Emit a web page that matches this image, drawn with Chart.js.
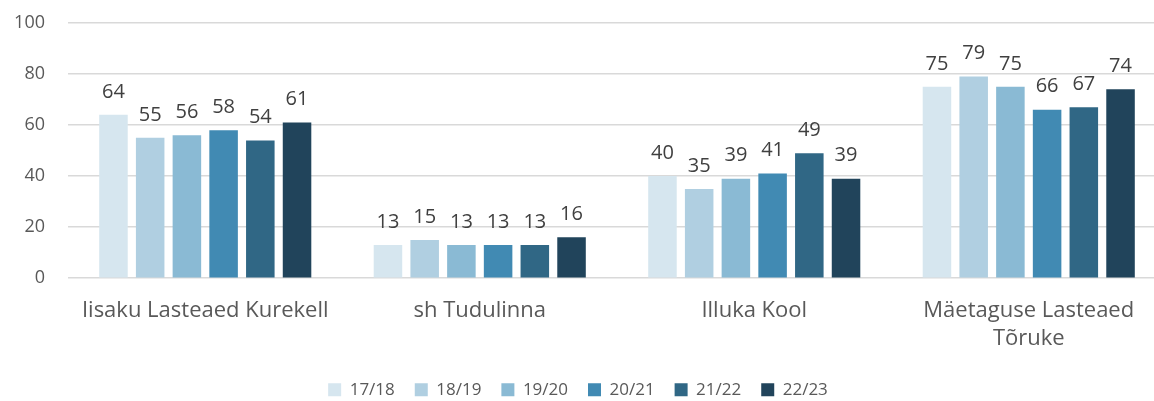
<!DOCTYPE html>
<html><head><meta charset="utf-8">
<script src="https://cdn.jsdelivr.net/npm/chart.js@4"></script>
<style>html,body{margin:0;padding:0;background:#fff;overflow:hidden}#wrap{width:1166px;height:401px}</style>
</head><body><div id="wrap"><canvas id="c"></canvas></div>
<script>
const categories = [["Iisaku Lasteaed Kurekell"], ["sh Tudulinna"], ["Illuka Kool"], ["Mäetaguse Lasteaed", "Tõruke"]];
const seriesNames = ["17/18", "18/19", "19/20", "20/21", "21/22", "22/23"];
const s1718 = [64, 13, 40, 75];
const s1819 = [55, 15, 35, 79];
const s1920 = [56, 13, 39, 75];
const s2021 = [58, 13, 41, 66];
const s2122 = [54, 13, 49, 67];
const s2223 = [61, 16, 39, 74];
const colors = ["#D6E6EF", "#B0CFE1", "#8ABAD4", "#418AB3", "#306785", "#21445B"];
const yTicks = [0, 20, 40, 60, 80, 100];

const allSeries = [s1718, s1819, s1920, s2021, s2122, s2223];
const FONT = "'Open Sans', 'DejaVu Sans', sans-serif";

const labelPlugin = {
  id: 'barLabels',
  afterLayout(chart) {
    if (chart.legend) { chart.legend.left -= 5; chart.legend.right -= 5; }
  },
  afterDatasetsDraw(chart) {
    const ctx = chart.ctx;
    ctx.save();
    ctx.font = "20px " + FONT;
    ctx.fillStyle = "#404040";
    ctx.textAlign = "center";
    ctx.textBaseline = "middle";
    chart.data.datasets.forEach((ds, i) => {
      const meta = chart.getDatasetMeta(i);
      meta.data.forEach((bar, j) => {
        ctx.fillText(String(ds.data[j]), bar.x, bar.y - 23);
      });
    });
    ctx.restore();
  }
};

new Chart(document.getElementById('c'), {
  type: 'bar',
  data: {
    labels: categories,
    datasets: allSeries.map((d, i) => ({
      label: seriesNames[i],
      data: d,
      backgroundColor: colors[i],
      borderWidth: 0,
      categoryPercentage: 0.8025,
      barPercentage: 0.777
    }))
  },
  options: {
    responsive: true,
    maintainAspectRatio: false,
    animation: false,
    layout: { padding: { left: 0, right: 0, top: 23, bottom: -7.2 } },
    scales: {
      y: {
        min: 0, max: 100,
        afterBuildTicks: (ax) => { ax.ticks = yTicks.map(v => ({ value: v })); },
        afterFit: (s) => { s.width = 68; },
        grid: { color: '#D9D9D9', lineWidth: 1.5, drawTicks: true, tickLength: 23, tickColor: 'rgba(0,0,0,0)' },
        border: { display: false },
        ticks: { color: '#595959', font: { size: 18, family: FONT }, padding: 0 }
      },
      x: {
        afterFit: (s) => { s.height = 83; },
        grid: { display: false, drawTicks: false },
        border: { display: false },
        ticks: { color: '#595959', font: { size: 22, family: FONT, lineHeight: 1.27 }, padding: 19, maxRotation: 0, autoSkip: false }
      }
    },
    plugins: {
      legend: {
        position: 'bottom',
        labels: { color: '#595959', font: { size: 17, family: FONT }, boxWidth: 13, boxHeight: 13, padding: 20 }
      },
      tooltip: { enabled: false }
    }
  },
  plugins: [labelPlugin]
});
</script></body></html>
